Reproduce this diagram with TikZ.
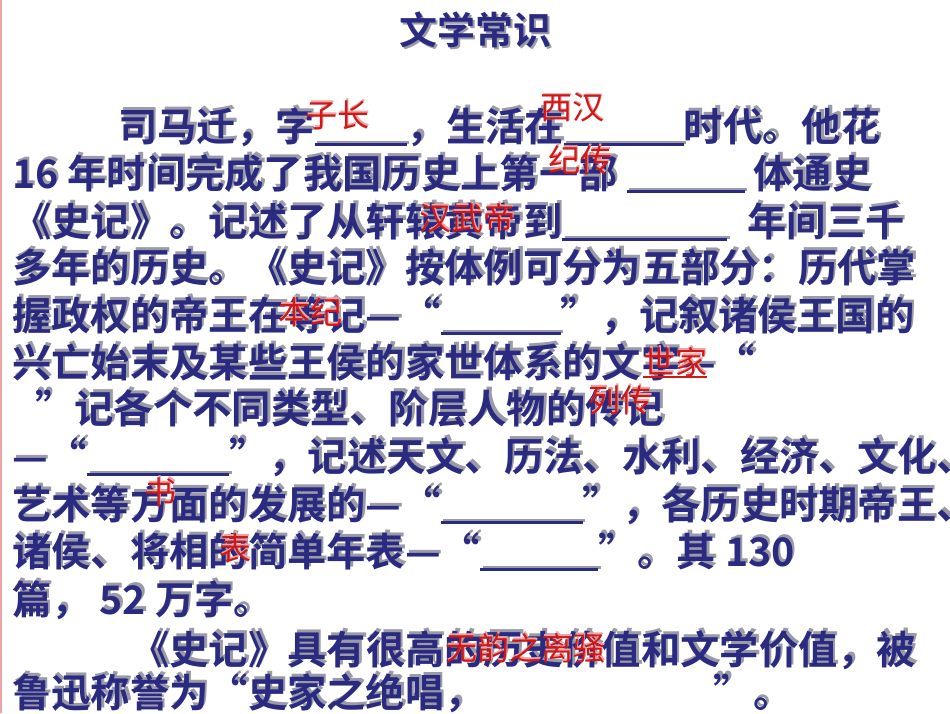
\documentclass[tikz,border=0pt]{standalone}
\usepackage{fontspec}
\newfontfamily\cjk{Noto Sans CJK SC Bold}
\newfontfamily\cjkl{Noto Sans CJK SC}
\definecolor{navy}{HTML}{2A2A80}
\definecolor{shad}{HTML}{9A9AA8}
\definecolor{ans}{HTML}{D01818}
\newcommand{\bl}[1]{\rule[-5pt]{#1pt}{3pt}}
\newcommand{\Ln}[4]{%
  \node[txt,text=shad] (#1s) at (#2+2.5,#3-2.5) {#4};
  \node[txt,text=navy] (#1) at (#2,#3) {#4};}
\newcommand{\An}[4]{%
  \node[anst,text=ans!40] (#1s) at (#2+1.5,#3-1.5) {#4};
  \node[anst] (#1) at (#2,#3) {#4};}
\tikzset{txt/.style={anchor=base west,inner sep=0,font=\cjk\fontsize{39.3}{42}\selectfont},
 anst/.style={inner sep=0,text=ans,font=\cjkl\fontsize{32}{34}\selectfont}}
\begin{document}
\begin{tikzpicture}[x=1pt,y=-1pt]
\useasboundingbox (0,0) rectangle (950,713);
\clip (0,0) rectangle (950,713);
\draw[ans!40,line width=1.5pt] (1,0)--(1,713);
\node[txt,anchor=base,text=shad] (ts) at (477.5,46.5) {\fontsize{38}{40}\selectfont 文学常识};
\node[txt,anchor=base,text=navy] (t) at (475,44) {\fontsize{38}{40}\selectfont 文学常识};
\Ln{l2}{118}{141}{司马迁，字\bl{92}，生活在\bl{120}时代。他花}
\Ln{l3}{12}{188}{16 年时间完成了我国历史上第一部 \bl{118} 体通史}
\Ln{l4}{12}{236}{《史记》。记述了从轩辕黄帝到\bl{165}\hspace{20pt}年间三千}
\Ln{l5}{12}{282}{多年的历史。《史记》按体例可分为五部分：历代掌}
\Ln{l6}{12}{330}{握政权的帝王在等记—“\bl{120}”，记叙诸侯王国的}
\Ln{l7}{12}{377}{兴亡始末及某些王侯的家世体系的文字—“}
\Ln{l8}{35}{423}{”记各个不同类型、阶层人物的传记}
\Ln{l9}{12}{471}{—“\bl{142}”，记述天文、历法、水利、经济、文化、}
\Ln{l10}{12}{519}{艺术等方面的发展的—“\bl{142}”，各历史时期帝王、}
\Ln{l11}{12}{566}{诸侯、将相的简单年表—“\bl{118}”。其 130}
\Ln{l12}{12}{614}{篇， 52 万字。}
\Ln{l13}{130}{664}{《史记》具有很高的历史价值和文学价值，被}
\Ln{l14}{12}{707}{鲁迅称誉为“史家之绝唱，\hspace{230pt}”。}
\An{a1}{337}{115}{子长}
\An{a2}{572}{108}{西汉}
\An{a3}{580}{160}{纪传}
\An{a4}{467}{218}{汉武帝}
\An{a5}{310}{312}{本纪}
\An{a6}{675}{362}{世家}
\draw[ans,line width=1.5pt] (a6.south west)--(a6.south east);
\An{a7}{620}{400}{列传}
\An{a8}{160}{492}{书}
\An{a9}{235}{548}{表}
\An{a10}{525}{648}{无韵之离骚}
\end{tikzpicture}
\end{document}
